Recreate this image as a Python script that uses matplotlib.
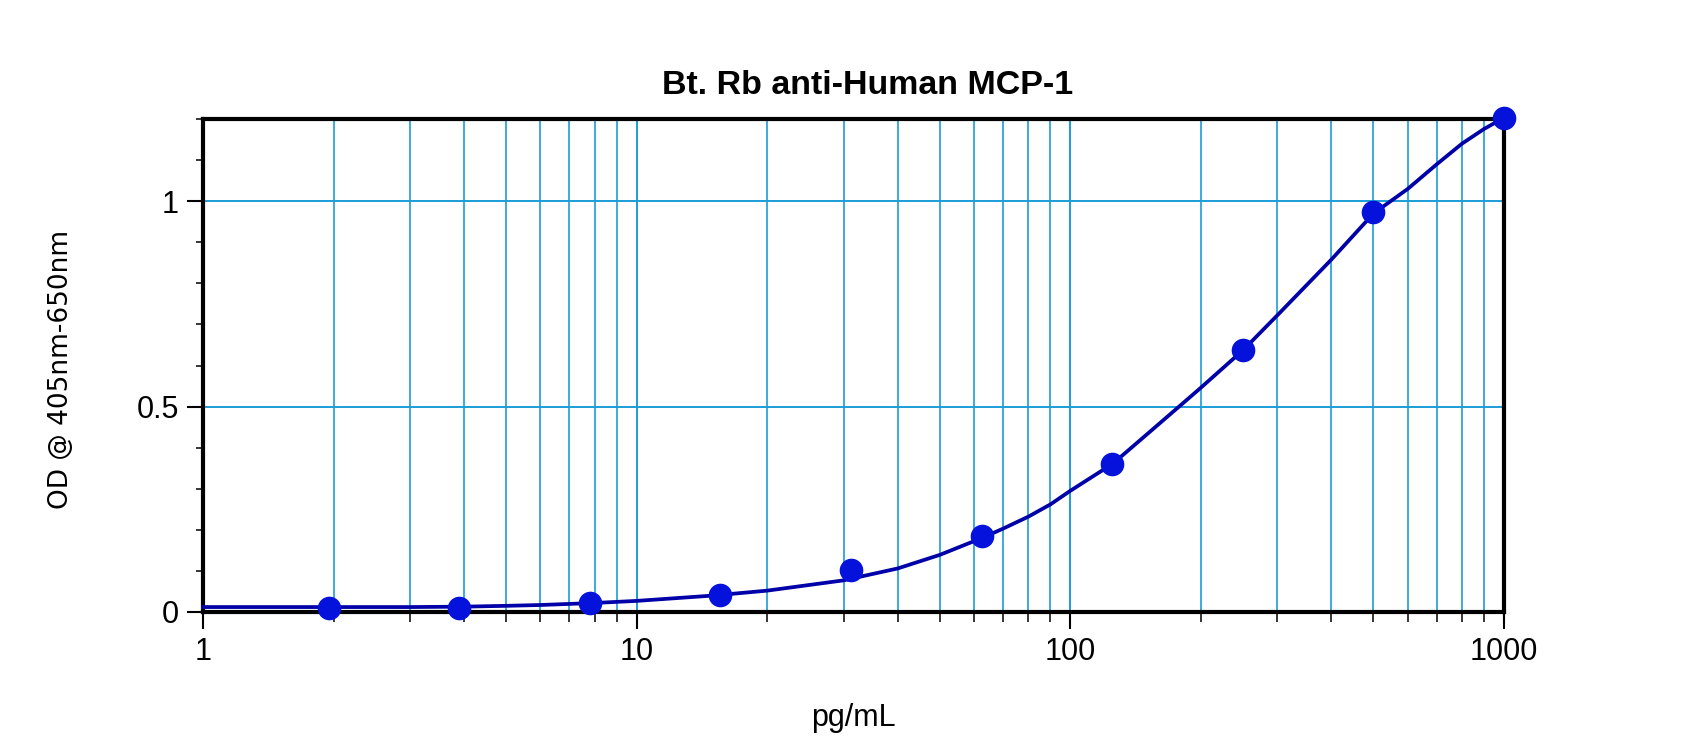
import numpy as np
import matplotlib.pyplot as plt
from matplotlib.ticker import LogLocator, MultipleLocator, NullFormatter, FixedLocator

# standards (pg/mL) and mean OD
std_conc = [1.95, 3.9, 7.8, 15.6, 31.25, 62.5, 125, 250, 500, 1000]
std_od = [0.009, 0.009, 0.022, 0.041, 0.102, 0.185, 0.360, 0.637, 0.973, 1.203]

# fitted standard curve
fit_conc = [1, 2, 3, 4, 5, 6, 8, 10, 15, 20, 30, 40, 50, 62.5, 70, 80, 90, 100,
            117, 125, 150, 185, 200, 250, 300, 400, 500, 600, 700, 800, 900, 1000]
fit_od = [0.012, 0.012, 0.012, 0.013, 0.015, 0.017, 0.022, 0.027, 0.040, 0.052,
          0.077, 0.106, 0.139, 0.180, 0.203, 0.232, 0.262, 0.295, 0.341, 0.360,
          0.432, 0.515, 0.546, 0.637, 0.722, 0.858, 0.970, 1.030, 1.090, 1.140,
          1.176, 1.203]

xticks = [1, 10, 100, 1000]
xtick_labels = ['1', '10', '100', '1000']
yticks = [0, 0.5, 1]
ytick_labels = ['0', '0.5', '1']

grid_col = '#1c9dd6'

plt.rcParams['font.family'] = ['Liberation Sans', 'DejaVu Sans']

fig = plt.figure(figsize=(17, 7.51), dpi=100)
ax = fig.add_axes([0.1194, 0.1851, 0.7653, 0.6564])

ax.set_xscale('log')
ax.set_xlim(1, 1000)
ax.set_ylim(0, 1.2)

ax.xaxis.set_major_locator(FixedLocator(xticks))
ax.set_xticklabels(xtick_labels)
ax.xaxis.set_minor_locator(LogLocator(base=10, subs=np.arange(2, 10)))
ax.xaxis.set_minor_formatter(NullFormatter())
ax.set_yticks(yticks)
ax.set_yticklabels(ytick_labels)
ax.yaxis.set_minor_locator(MultipleLocator(0.1))

ax.grid(True, which='major', axis='both', color=grid_col, linewidth=1.4, zorder=0)
ax.grid(True, which='minor', axis='x', color=grid_col, linewidth=1.2, zorder=0)
ax.set_axisbelow(True)

ax.tick_params(axis='x', which='major', direction='out', length=12, width=1.5,
               pad=6, labelsize=22)
ax.tick_params(axis='x', which='minor', direction='out', length=7, width=1.1)
ax.tick_params(axis='y', which='major', direction='out', length=11.5, width=1.5,
               pad=6, labelsize=22)
ax.tick_params(axis='y', which='minor', direction='out', length=5, width=1.1)

for s in ax.spines.values():
    s.set_linewidth(3.0)
    s.set_color('black')

ax.plot(fit_conc, fit_od, color='#0000a8', linewidth=2.7, zorder=3, clip_on=False)
ax.plot(std_conc, std_od, linestyle='none', marker='o', markersize=16,
        color='#0512dc', markeredgecolor='#0512dc', zorder=4, clip_on=False)

fig.text(0.5106, 0.8868, 'Bt. Rb anti-Human MCP-1', ha='center', va='center',
         fontsize=24.5, fontweight='bold')
fig.text(0.502, 0.044, 'pg/mL', ha='center', va='center', fontsize=22)
fig.text(0.036, 0.5087, 'OD @ 405nm-650nm', ha='center', va='center',
         rotation=90, fontsize=19, family='DejaVu Sans')

fig.savefig('out.png', dpi=100)
